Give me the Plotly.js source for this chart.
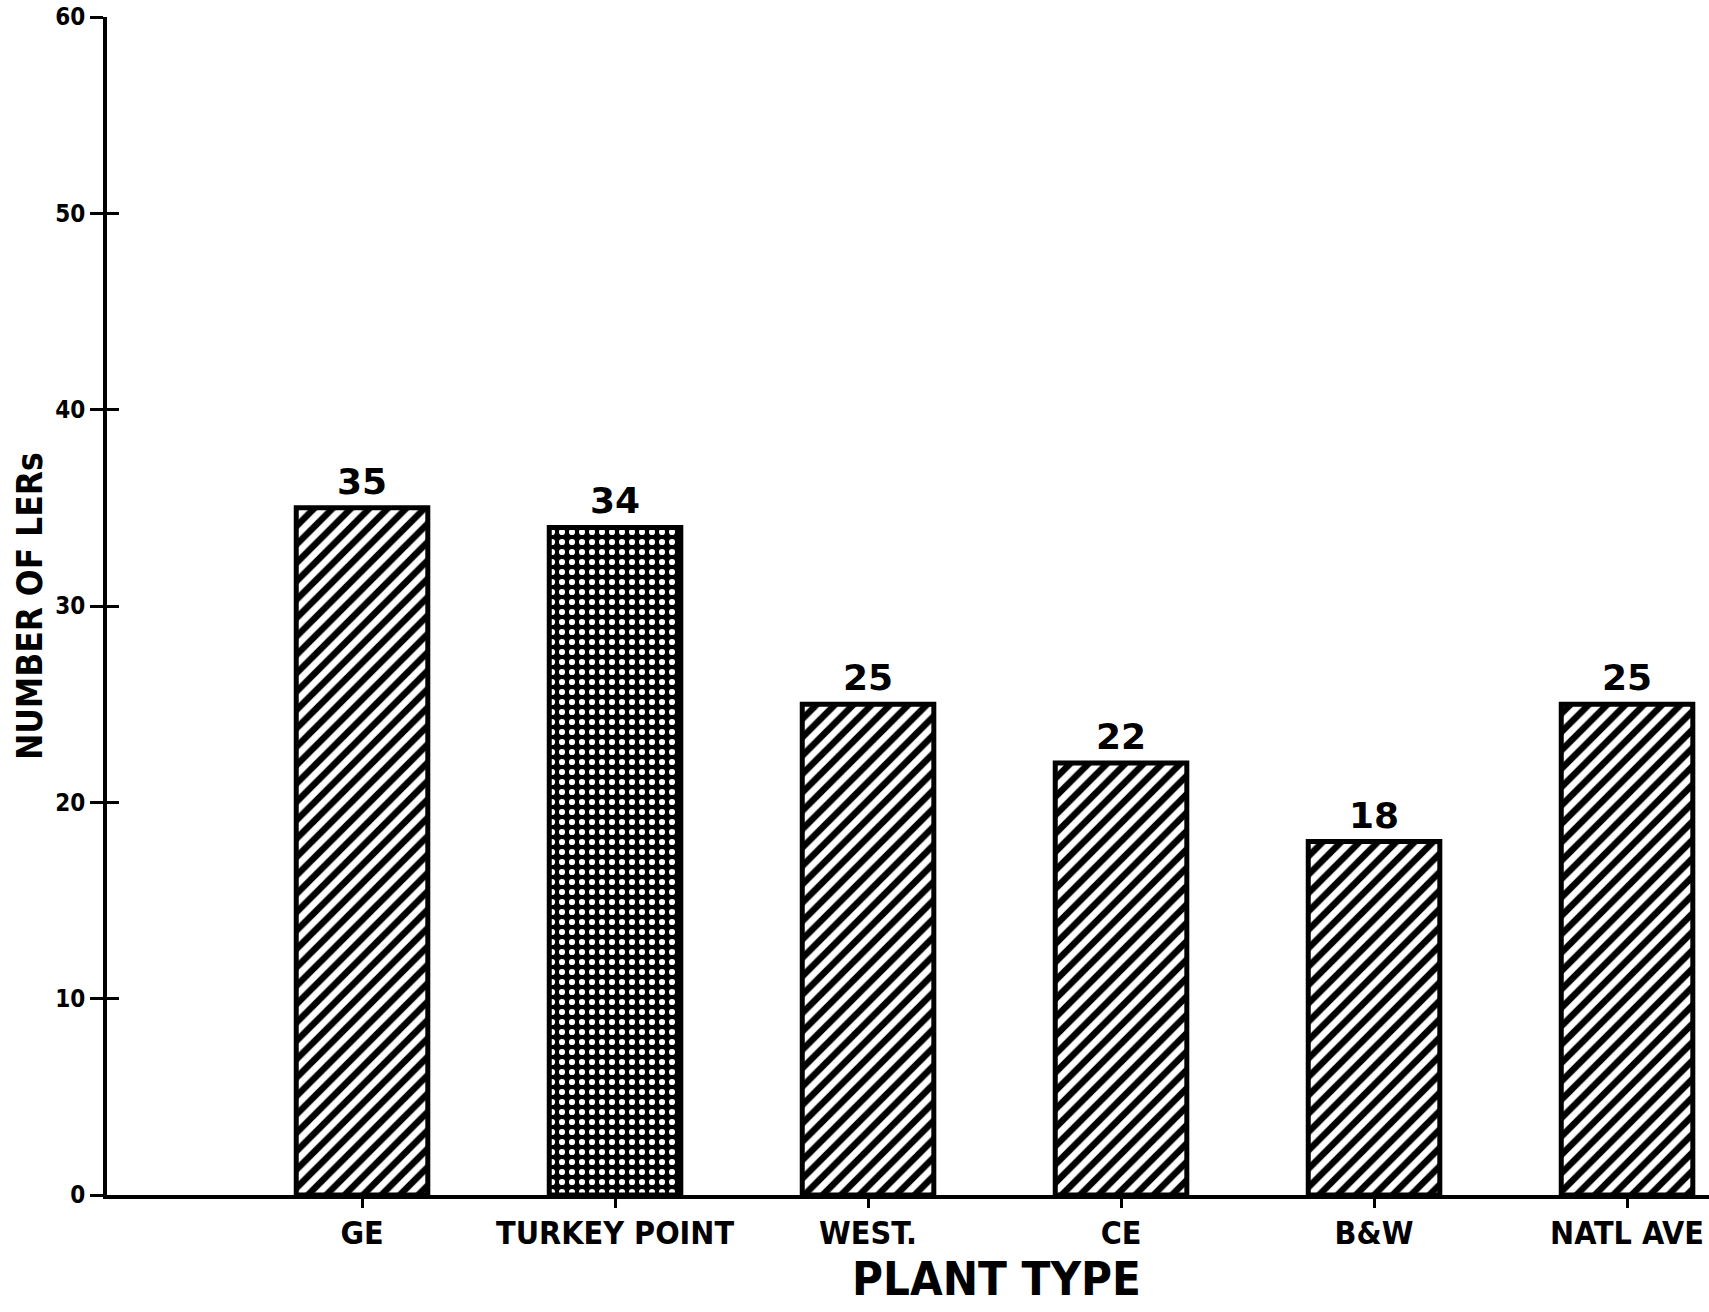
<!DOCTYPE html>
<html>
<head>
<meta charset="utf-8">
<script src="https://cdn.plot.ly/plotly-3.0.1.min.js"></script>
<style>html,body{margin:0;padding:0;background:#fff;}#chart{width:1709px;height:1312px;}</style>
</head>
<body>
<div id="chart"></div>
<script>
const categories = ["GE", "TURKEY POINT", "WEST.", "CE", "B&W", "NATL AVE"];
const lerCounts = [35, 34, 25, 22, 18, 25];
const patternShapes = ["/", ".", "/", "/", "/", "/"];
const yTickValues = [0, 10, 20, 30, 40, 50, 60];
const yTickLabels = ["0", "10", "20", "30", "40", "50", "60"];
const yTitle = "NUMBER OF LERs";
const xTitle = "PLANT TYPE";

const narrow = "'DejaVu Sans Condensed', 'Liberation Sans Narrow', Arial, sans-serif";

const fg = patternShapes.map(s => s === "." ? "#ffffff" : "#000000");
const bg = patternShapes.map(s => s === "." ? "#000000" : "#ffffff");
const sz = patternShapes.map(s => s === "." ? 10 : 13);
const sol = patternShapes.map(s => s === "." ? 0.3 : 0.5);

const trace = {
  type: "bar",
  x: categories,
  y: lerCounts,
  width: 0.52,
  cliponaxis: false,
  marker: {
    color: "#ffffff",
    line: {color: "#000", width: 5},
    pattern: {shape: patternShapes, fgcolor: fg, bgcolor: bg, size: sz, solidity: sol, fillmode: "replace"}
  },
  hoverinfo: "none"
};

const valueLabels = categories.map((c, i) => ({
  x: c, y: lerCounts[i], xref: "x", yref: "y",
  text: String(lerCounts[i]), showarrow: false,
  xanchor: "center", yanchor: "bottom", yshift: 4,
  font: {family: "'DejaVu Sans', sans-serif", size: 36, color: "#000", weight: "bold"}
}));

const layout = {
  width: 1709, height: 1312,
  margin: {l: 107, r: 0, t: 17, b: 117},
  paper_bgcolor: "#fff", plot_bgcolor: "#fff",
  showlegend: false,
  xaxis: {
    type: "category",
    range: [-1.008, 5.324],
    showline: true, linecolor: "#000", linewidth: 4,
    ticks: "outside", ticklen: 9, tickwidth: 3, tickcolor: "#000",
    ticklabelstandoff: -2,
    showgrid: false, zeroline: false,
    tickfont: {family: narrow, size: 32, color: "#000", weight: "bold"}
  },
  yaxis: {
    range: [0, 60],
    tickvals: yTickValues, ticktext: yTickLabels,
    showline: true, linecolor: "#000", linewidth: 4,
    ticks: "outside", ticklen: 13, tickwidth: 3, tickcolor: "#000",
    showgrid: false, zeroline: false,
    tickfont: {family: "'DejaVu Sans Condensed', 'DejaVu Sans', sans-serif", size: 24, color: "#000", weight: "bold"}
  },
  yaxis2: {
    range: [0, 60], overlaying: "y", side: "left", anchor: "x",
    tickvals: yTickValues, showticklabels: false,
    ticks: "inside", ticklen: 12, tickwidth: 3, tickcolor: "#000",
    showline: false, showgrid: false, zeroline: false
  },
  annotations: valueLabels.concat([
    {text: yTitle, xref: "paper", yref: "paper", x: -0.048, y: 0.5, textangle: -90,
     showarrow: false, xanchor: "center", yanchor: "middle",
     font: {family: narrow, size: 35, color: "#000", weight: "bold"}},
    {text: xTitle, xref: "paper", yref: "paper", x: 0.555, y: -0.071,
     showarrow: false, xanchor: "center", yanchor: "middle",
     font: {family: narrow, size: 47, color: "#000", weight: "bold"}}
  ])
};

const ghost = {type: "scatter", x: [categories[0]], y: [0], yaxis: "y2", mode: "markers", marker: {opacity: 0}, hoverinfo: "none"};

Plotly.newPlot("chart", [trace, ghost], layout, {staticPlot: true});
</script>
</body>
</html>
